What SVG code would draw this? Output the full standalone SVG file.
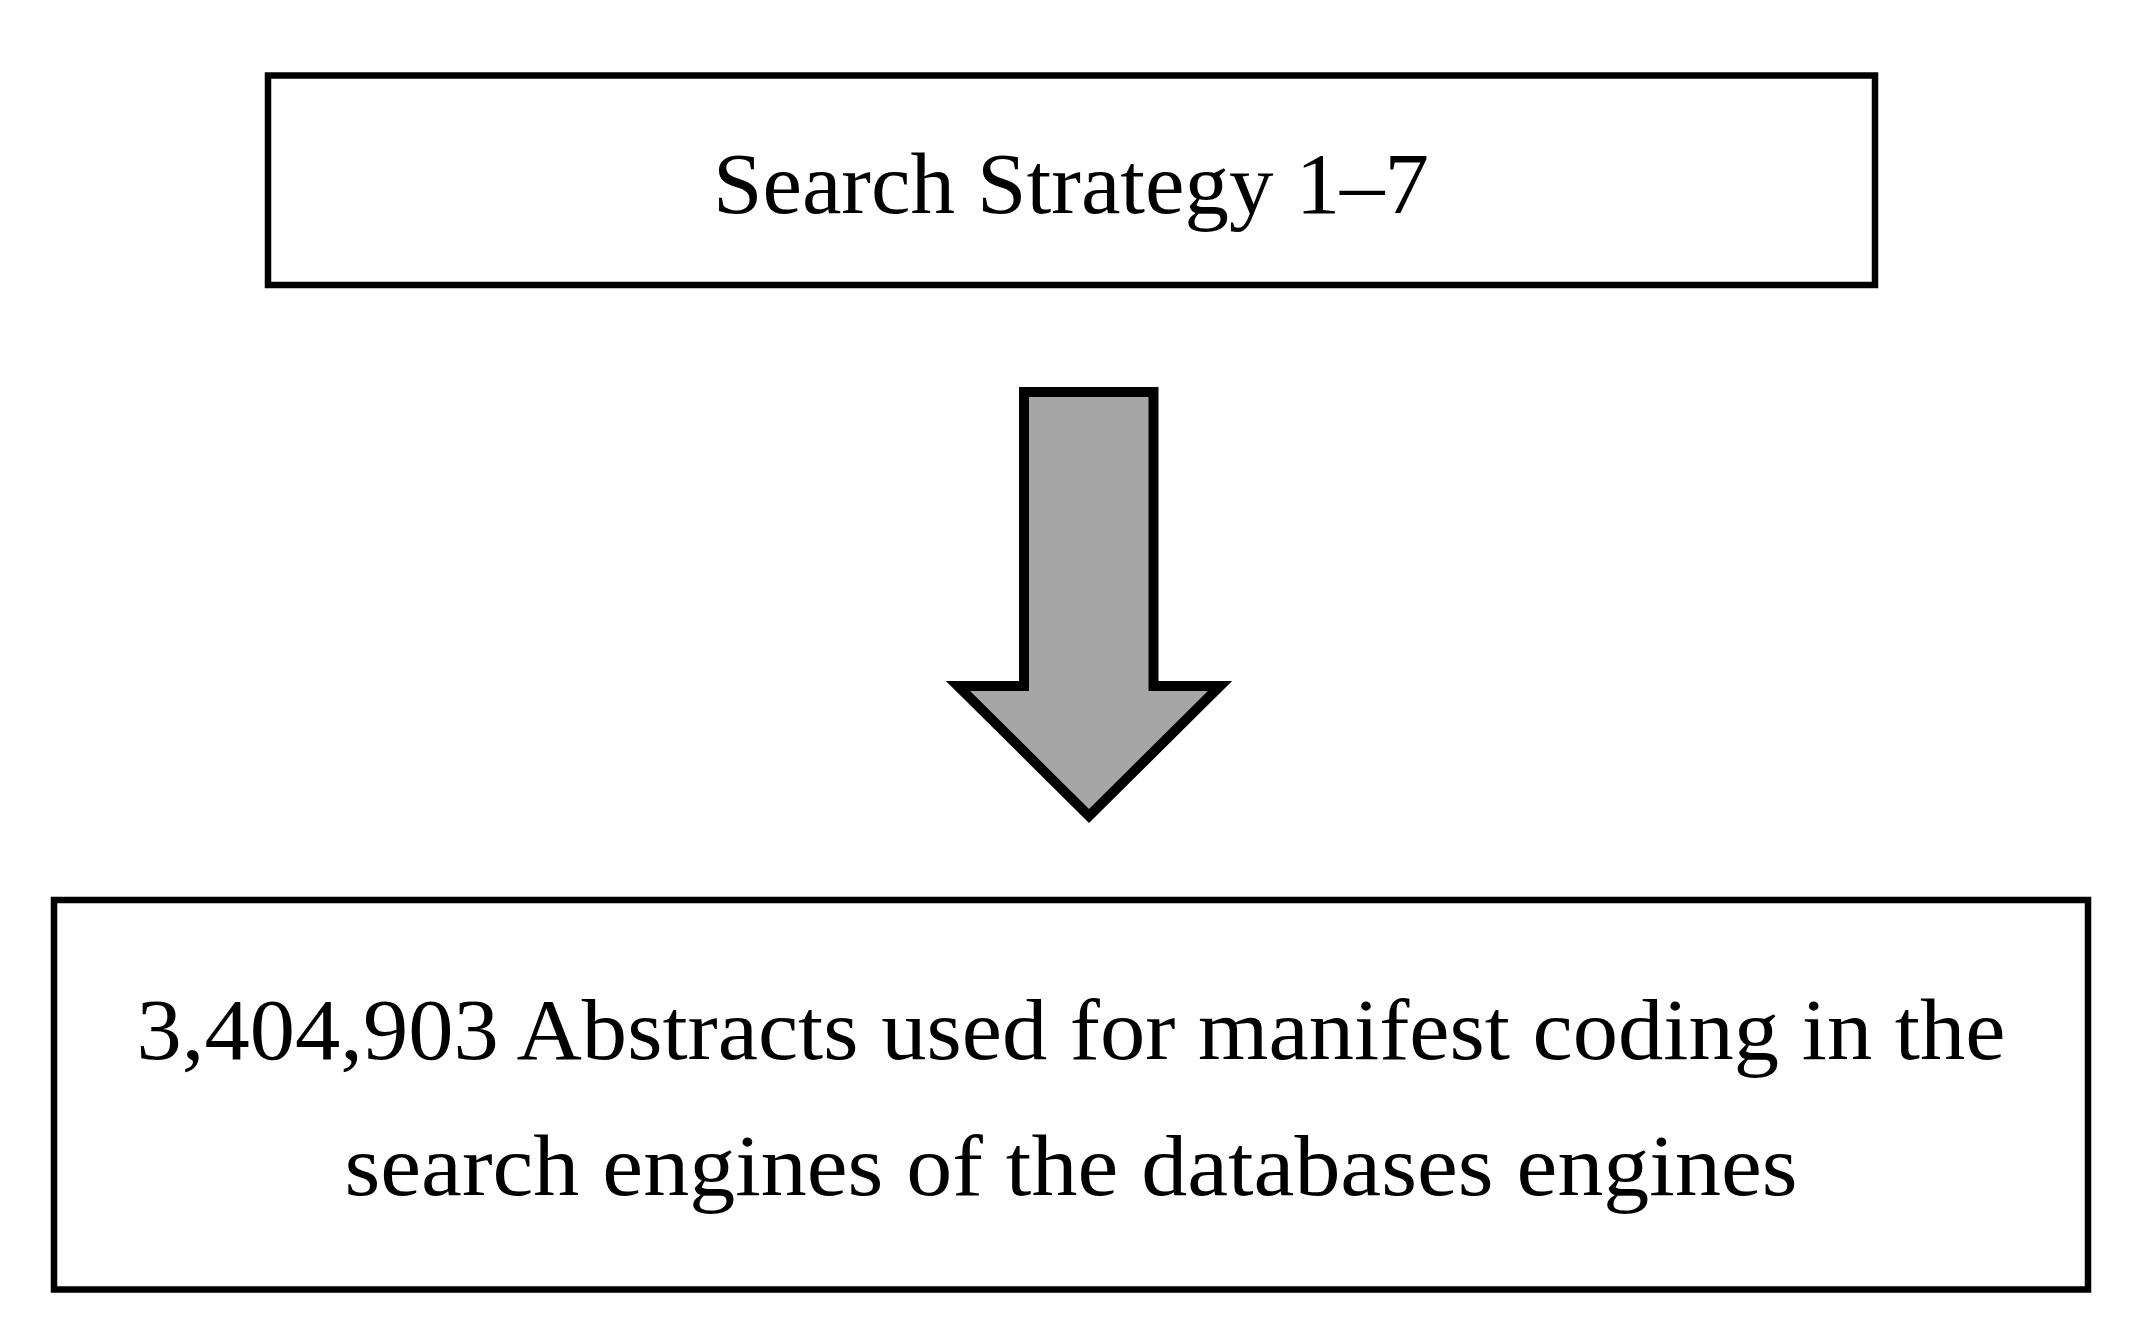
<svg xmlns="http://www.w3.org/2000/svg" width="2134" height="1334" viewBox="0 0 2134 1334">
<style>
.box{fill:#fff;stroke:#000;stroke-width:6.5}
.arrow{fill:#a6a6a6;stroke:#000;stroke-width:10;stroke-linejoin:miter;stroke-miterlimit:10}
.t{font-family:"Liberation Serif","Times New Roman",serif;font-size:86px;fill:#000;text-anchor:middle}
</style>
<rect width="2134" height="1334" fill="#fff"/>
<g id="node-search">
<rect class="box" x="268" y="75.5" width="1607" height="209.5"/>
<text class="t" x="1071" y="213" textLength="716" lengthAdjust="spacingAndGlyphs">Search Strategy 1–7</text>
</g>
<g id="connectors">
<path class="arrow" d="M1024,392 H1153.5 V686 H1220 L1089,816 L958,686 H1024 Z"/>
</g>
<g id="node-abstracts">
<rect class="box" x="54" y="900" width="2034" height="389.5"/>
<text class="t" x="1071" y="1059" textLength="1869" lengthAdjust="spacingAndGlyphs">3,404,903 Abstracts used for manifest coding in the</text>
<text class="t" x="1071" y="1195" textLength="1453" lengthAdjust="spacingAndGlyphs">search engines of the databases engines</text>
</g>
</svg>
